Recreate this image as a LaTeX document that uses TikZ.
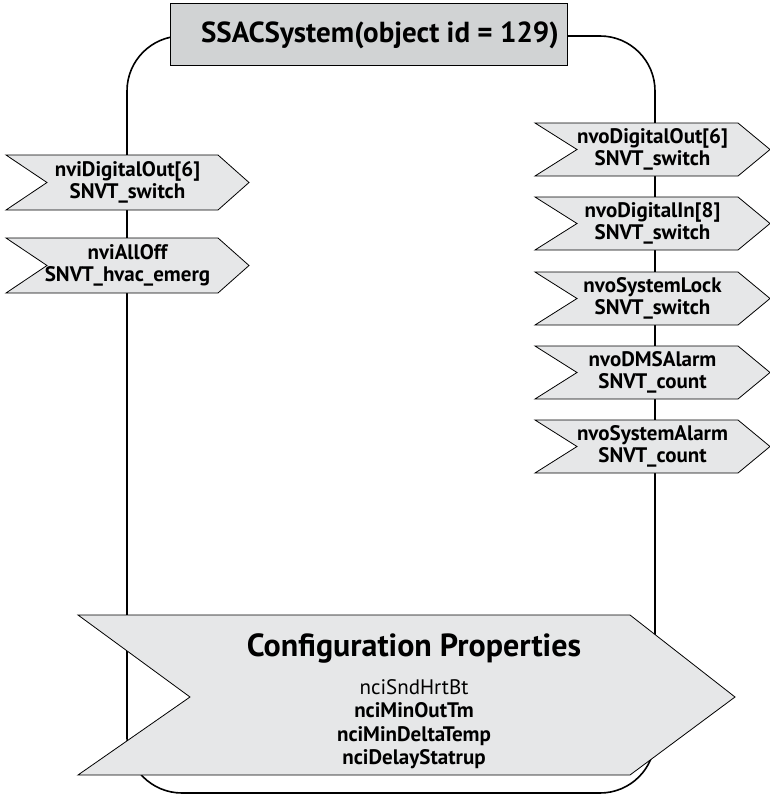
\documentclass[tikz,border=0pt]{standalone}
\usepackage{fontspec}
\setmainfont{PT Sans}
\definecolor{boxgray}{HTML}{D1D3D4}
\definecolor{arrowgray}{HTML}{E6E7E8}
\tikzset{
  frame/.style={draw=black, line width=1.6pt, rounded corners=55pt},
  titlebox/.style={draw=black, line width=0.8pt, fill=boxgray},
  nvshape/.style={draw=black, line width=0.8pt, fill=arrowgray, line join=miter},
  nvtext/.style={font=\fontsize{21}{22}\selectfont\bfseries, align=center, inner sep=0pt},
  cftitle/.style={font=\fontsize{32}{34}\selectfont\bfseries, inner sep=0pt},
  cfitem/.style={font=\fontsize{21}{23.5}\selectfont, align=center, inner sep=0pt},
}
% #1 name, #2 left x, #3 top y, #4 bottom y, #5 notch x, #6 shoulder x, #7 tip x, #8 text
\newcommand{\nvarrow}[8]{%
  \draw[nvshape] (#2,#3) -- (#6,#3) -- (#7,{(#3+#4)/2}) -- (#6,#4) -- (#2,#4) -- (#5,{(#3+#4)/2}) -- cycle;
  \node[nvtext] (#1) at ({(#2+#7)/2},{(#3+#4)/2}) {#8};
}
\begin{document}
\begin{tikzpicture}[x=1pt,y=-1pt]
\useasboundingbox (0,0) rectangle (770,800);
% outer frame
\draw[frame] (127,36) rectangle (655,793);
% title
\draw[titlebox] (170,3) rectangle (567,65);
\node[font=\fontsize{29}{32}\selectfont\bfseries, inner sep=0pt] (title) at (380,35) {SSACSystem(object id = 129)};
% inputs
\nvarrow{in1}{6}{155}{210}{47}{218}{249}{nviDigitalOut[6]\\SNVT\_switch}
\nvarrow{in2}{6}{238}{293}{47}{218}{249}{nviAllOff\\SNVT\_hvac\_emerg}
% outputs
\nvarrow{out1}{535}{123}{176}{577}{738}{770}{nvoDigitalOut[6]\\SNVT\_switch}
\nvarrow{out2}{535}{197}{250}{577}{738}{770}{nvoDigitalIn[8]\\SNVT\_switch}
\nvarrow{out3}{535}{272}{325}{577}{738}{770}{nvoSystemLock\\SNVT\_switch}
\nvarrow{out4}{535}{346}{399}{577}{738}{770}{nvoDMSAlarm\\SNVT\_count}
\nvarrow{out5}{535}{420}{473}{577}{738}{770}{nvoSystemAlarm\\SNVT\_count}
% configuration properties
\draw[nvshape] (78,615) -- (630,615) -- (735,697) -- (630,775) -- (78,775) -- (190,697) -- cycle;
\node[cftitle] (cfg) at (414,648) {Configuration Properties};
\node[cfitem] (cfgitems) at (414,724) {nciSndHrtBt\\\textbf{nciMinOutTm}\\\textbf{nciMinDeltaTemp}\\\textbf{nciDelayStatrup}};
\end{tikzpicture}
\end{document}
